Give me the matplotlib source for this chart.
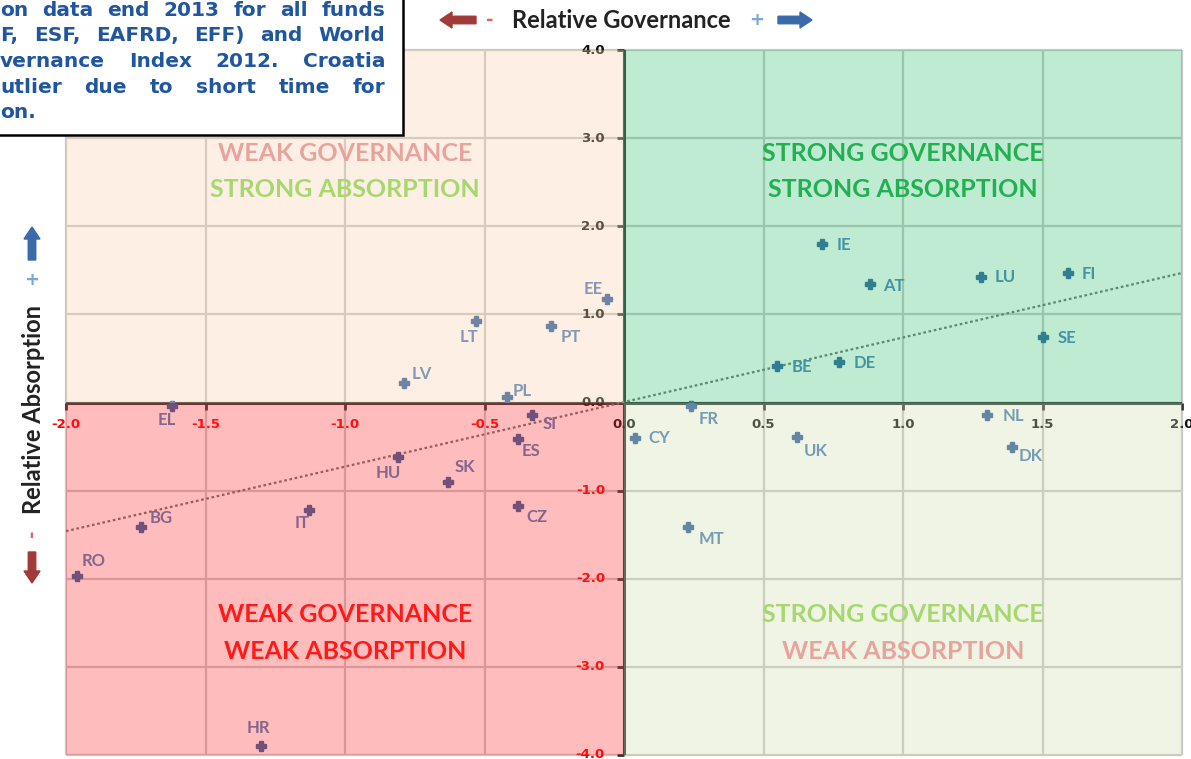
import numpy as np
import matplotlib.pyplot as plt
from matplotlib.patches import Rectangle, FancyArrow

countries = ['IE', 'AT', 'LU', 'FI', 'SE', 'BE', 'DE', 'EE', 'LT', 'PT', 'LV', 'PL', 'SI', 'ES',
             'SK', 'CZ', 'HU', 'IT', 'BG', 'RO', 'EL', 'HR', 'FR', 'CY', 'UK', 'NL', 'DK', 'MT']
governance = [0.71, 0.88, 1.28, 1.59, 1.50, 0.55, 0.77, -0.06, -0.53, -0.26, -0.79, -0.42, -0.33, -0.38,
              -0.63, -0.38, -0.81, -1.13, -1.73, -1.96, -1.62, -1.30, 0.24, 0.04, 0.62, 1.30, 1.39, 0.23]
absorption = [1.80, 1.35, 1.42, 1.47, 0.74, 0.41, 0.46, 1.18, 0.93, 0.87, 0.22, 0.06, -0.14, -0.41,
              -0.90, -1.17, -0.62, -1.22, -1.41, -1.97, -0.04, -3.90, -0.04, -0.40, -0.39, -0.14, -0.51, -1.41]
trend_x = [-2.0, 2.0]
trend_y = [-1.46, 1.47]
x_ticks = [-2.0, -1.5, -1.0, -0.5, 0.0, 0.5, 1.0, 1.5, 2.0]
y_ticks = [-4.0, -3.0, -2.0, -1.0, 0.0, 1.0, 2.0, 3.0, 4.0]

note_lines = ['on data end 2013 for all funds',
              'F, ESF, EAFRD, EFF) and World',
              'vernance Index 2012. Croatia',
              'utlier due to short time for',
              'on.']

# label placement: (ha, dx px, dy px downward)
lab_pos = {'IE': ('left', 15, 1), 'AT': ('left', 14, 2), 'LU': ('left', 14, 0), 'FI': ('left', 14, 1),
           'SE': ('left', 15, 1), 'BE': ('left', 14, 1), 'DE': ('left', 15, 1), 'EE': ('right', -4, -10),
           'LT': ('right', 2, 16), 'PT': ('left', 9, 11), 'LV': ('left', 8, -9), 'PL': ('left', 6, -6),
           'SI': ('left', 11, 9), 'ES': ('left', 4, 12), 'SK': ('left', 6, -15), 'CZ': ('left', 8, 11),
           'HU': ('center', -10, 16), 'IT': ('center', -7, 13), 'BG': ('left', 8, -9), 'RO': ('left', 4, -15),
           'EL': ('center', -5, 14), 'HR': ('center', -3, -18), 'FR': ('left', 8, 13), 'CY': ('left', 13, 0),
           'UK': ('left', 7, 14), 'NL': ('left', 16, 1), 'DK': ('left', 7, 9), 'MT': ('left', 10, 12)}

fig = plt.figure(figsize=(11.91, 7.59), dpi=100)
ax = fig.add_axes([66/1191, 4/759, 1116/1191, 705/759])
ax.set_xlim(-2, 2)
ax.set_ylim(-4, 4)
ax.axis('off')

ax.vlines(x_ticks, -4, 4, color='#C8C8C8', lw=1.6, zorder=1, clip_on=False)
ax.hlines(y_ticks, -2, 2, color='#C8C8C8', lw=1.6, zorder=1, clip_on=False)
ax.axhline(0, color='#333333', lw=2.2, zorder=2)
ax.axvline(0, color='#333333', lw=2.2, zorder=2)
ax.plot(x_ticks, np.zeros(len(x_ticks)), ls='none', marker=3, ms=5, mew=2, color='#333333', zorder=2, clip_on=False)
ax.plot(np.zeros(len(y_ticks)), y_ticks, ls='none', marker=0, ms=5, mew=2, color='#333333', zorder=2, clip_on=False)

for t in x_ticks:
    ax.annotate('%.1f' % t, (t, 0), xytext=(0, -22), textcoords='offset pixels', ha='center', va='center',
                fontsize=9.5, fontweight='bold', color='#FF0000' if t < 0 else '#111111', zorder=3,
                annotation_clip=False)
for t in y_ticks:
    ax.annotate('%.1f' % t, (0, t), xytext=(-19, 0), textcoords='offset pixels', ha='right', va='center',
                fontsize=9.5, fontweight='bold', color='#FF0000' if t < 0 else '#111111', zorder=3,
                annotation_clip=False)

ax.plot(trend_x, trend_y, color='#6E6E6E', lw=1.6, dashes=(1.2, 1.2), zorder=3)
ax.plot(governance, absorption, ls='none', marker='P', ms=7, color='#2F5F9E', zorder=4)
for c, x, y in zip(countries, governance, absorption):
    ha, dx, dy = lab_pos[c]
    ax.annotate(c, (x, y), xytext=(dx, -dy), textcoords='offset pixels', ha=ha, va='center',
                fontsize=12, fontweight='bold', family='Lato', color='#4A7EBB', zorder=4)

# translucent quadrant panels laid over everything
quads = [(-2, 0, '#F9D0AB'), (0, 0, '#3AC176'), (-2, -4, '#FF3131'), (0, -4, '#D3DDAE')]
for qx, qy, col in quads:
    ax.add_patch(Rectangle((qx, qy), 2, 4, facecolor=col, edgecolor='none', alpha=0.32, zorder=5))

qkw = dict(ha='center', va='center', fontsize=18, fontweight='bold', family='Lato', zorder=6)
ax.text(-1.0, 2.82, 'WEAK GOVERNANCE', color='#E8A49C', **qkw)
ax.text(-1.0, 2.42, 'STRONG ABSORPTION', color='#A6D86E', **qkw)
ax.text(1.0, 2.82, 'STRONG GOVERNANCE', color='#22B050', **qkw)
ax.text(1.0, 2.42, 'STRONG ABSORPTION', color='#22B050', **qkw)
ax.text(-1.0, -2.41, 'WEAK GOVERNANCE', color='#FF1A1A', **qkw)
ax.text(-1.0, -2.82, 'WEAK ABSORPTION', color='#FF1A1A', **qkw)
ax.text(1.0, -2.41, 'STRONG GOVERNANCE', color='#A6D86E', **qkw)
ax.text(1.0, -2.82, 'WEAK ABSORPTION', color='#E8A49C', **qkw)

# figure-level decorations in inches
tr = fig.dpi_scale_trans
akw = dict(width=0.075, head_width=0.16, head_length=0.12, length_includes_head=True, transform=tr)
fig.add_artist(FancyArrow(4.76, 7.39, -0.36, 0, color='#A33A3A', **akw))
fig.add_artist(FancyArrow(7.78, 7.39, 0.34, 0, color='#3A6AA8', **akw))
fig.text(4.90, 7.39, '-', transform=tr, ha='center', va='center', fontsize=13, fontweight='bold', color='#E06060')
fig.text(7.57, 7.39, '+', transform=tr, ha='center', va='center', fontsize=13, fontweight='bold', color='#7AA6D8')
fig.text(6.21, 7.39, 'Relative Governance', transform=tr, ha='center', va='center', fontsize=17,
         fontweight='bold', family='Lato', color='#222222')

fig.add_artist(FancyArrow(0.32, 4.99, 0, 0.33, color='#3A6AA8', **akw))
fig.add_artist(FancyArrow(0.32, 2.07, 0, -0.31, color='#A33A3A', **akw))
fig.text(0.32, 4.79, '+', transform=tr, ha='center', va='center', fontsize=13, fontweight='bold', color='#7AA6D8')
fig.text(0.32, 2.26, '-', transform=tr, ha='center', va='center', fontsize=13, fontweight='bold', color='#E06060',
         rotation=90)
fig.text(0.34, 3.49, 'Relative Absorption', transform=tr, ha='center', va='center', rotation=90, fontsize=17,
         fontweight='bold', family='Lato', color='#222222')

# note box, cut off at the left edge
fig.add_artist(Rectangle((-0.2, 6.24), 4.23, 1.6, facecolor='white', edgecolor='black', lw=1.8,
                         transform=tr, zorder=10))
renderer = fig.canvas.get_renderer()
left, right = 0.0, 3.85
for i, line in enumerate(note_lines):
    yl = (759 - 10 - 25.7*i) / 100
    words = line.split()
    ts = [fig.text(0, yl, w, transform=tr, ha='left', va='center', fontsize=14.5, fontweight='bold',
                   color='#1F569E', zorder=11) for w in words]
    widths = [t.get_window_extent(renderer).width / 100 for t in ts]
    if i < len(note_lines) - 1 and len(words) > 1:
        gap = (right - left - sum(widths)) / (len(words) - 1)
    else:
        gap = 0.08
    x = left
    for t, w in zip(ts, widths):
        t.set_position((x, yl))
        x += w + gap

fig.savefig('out.png', dpi=100)
